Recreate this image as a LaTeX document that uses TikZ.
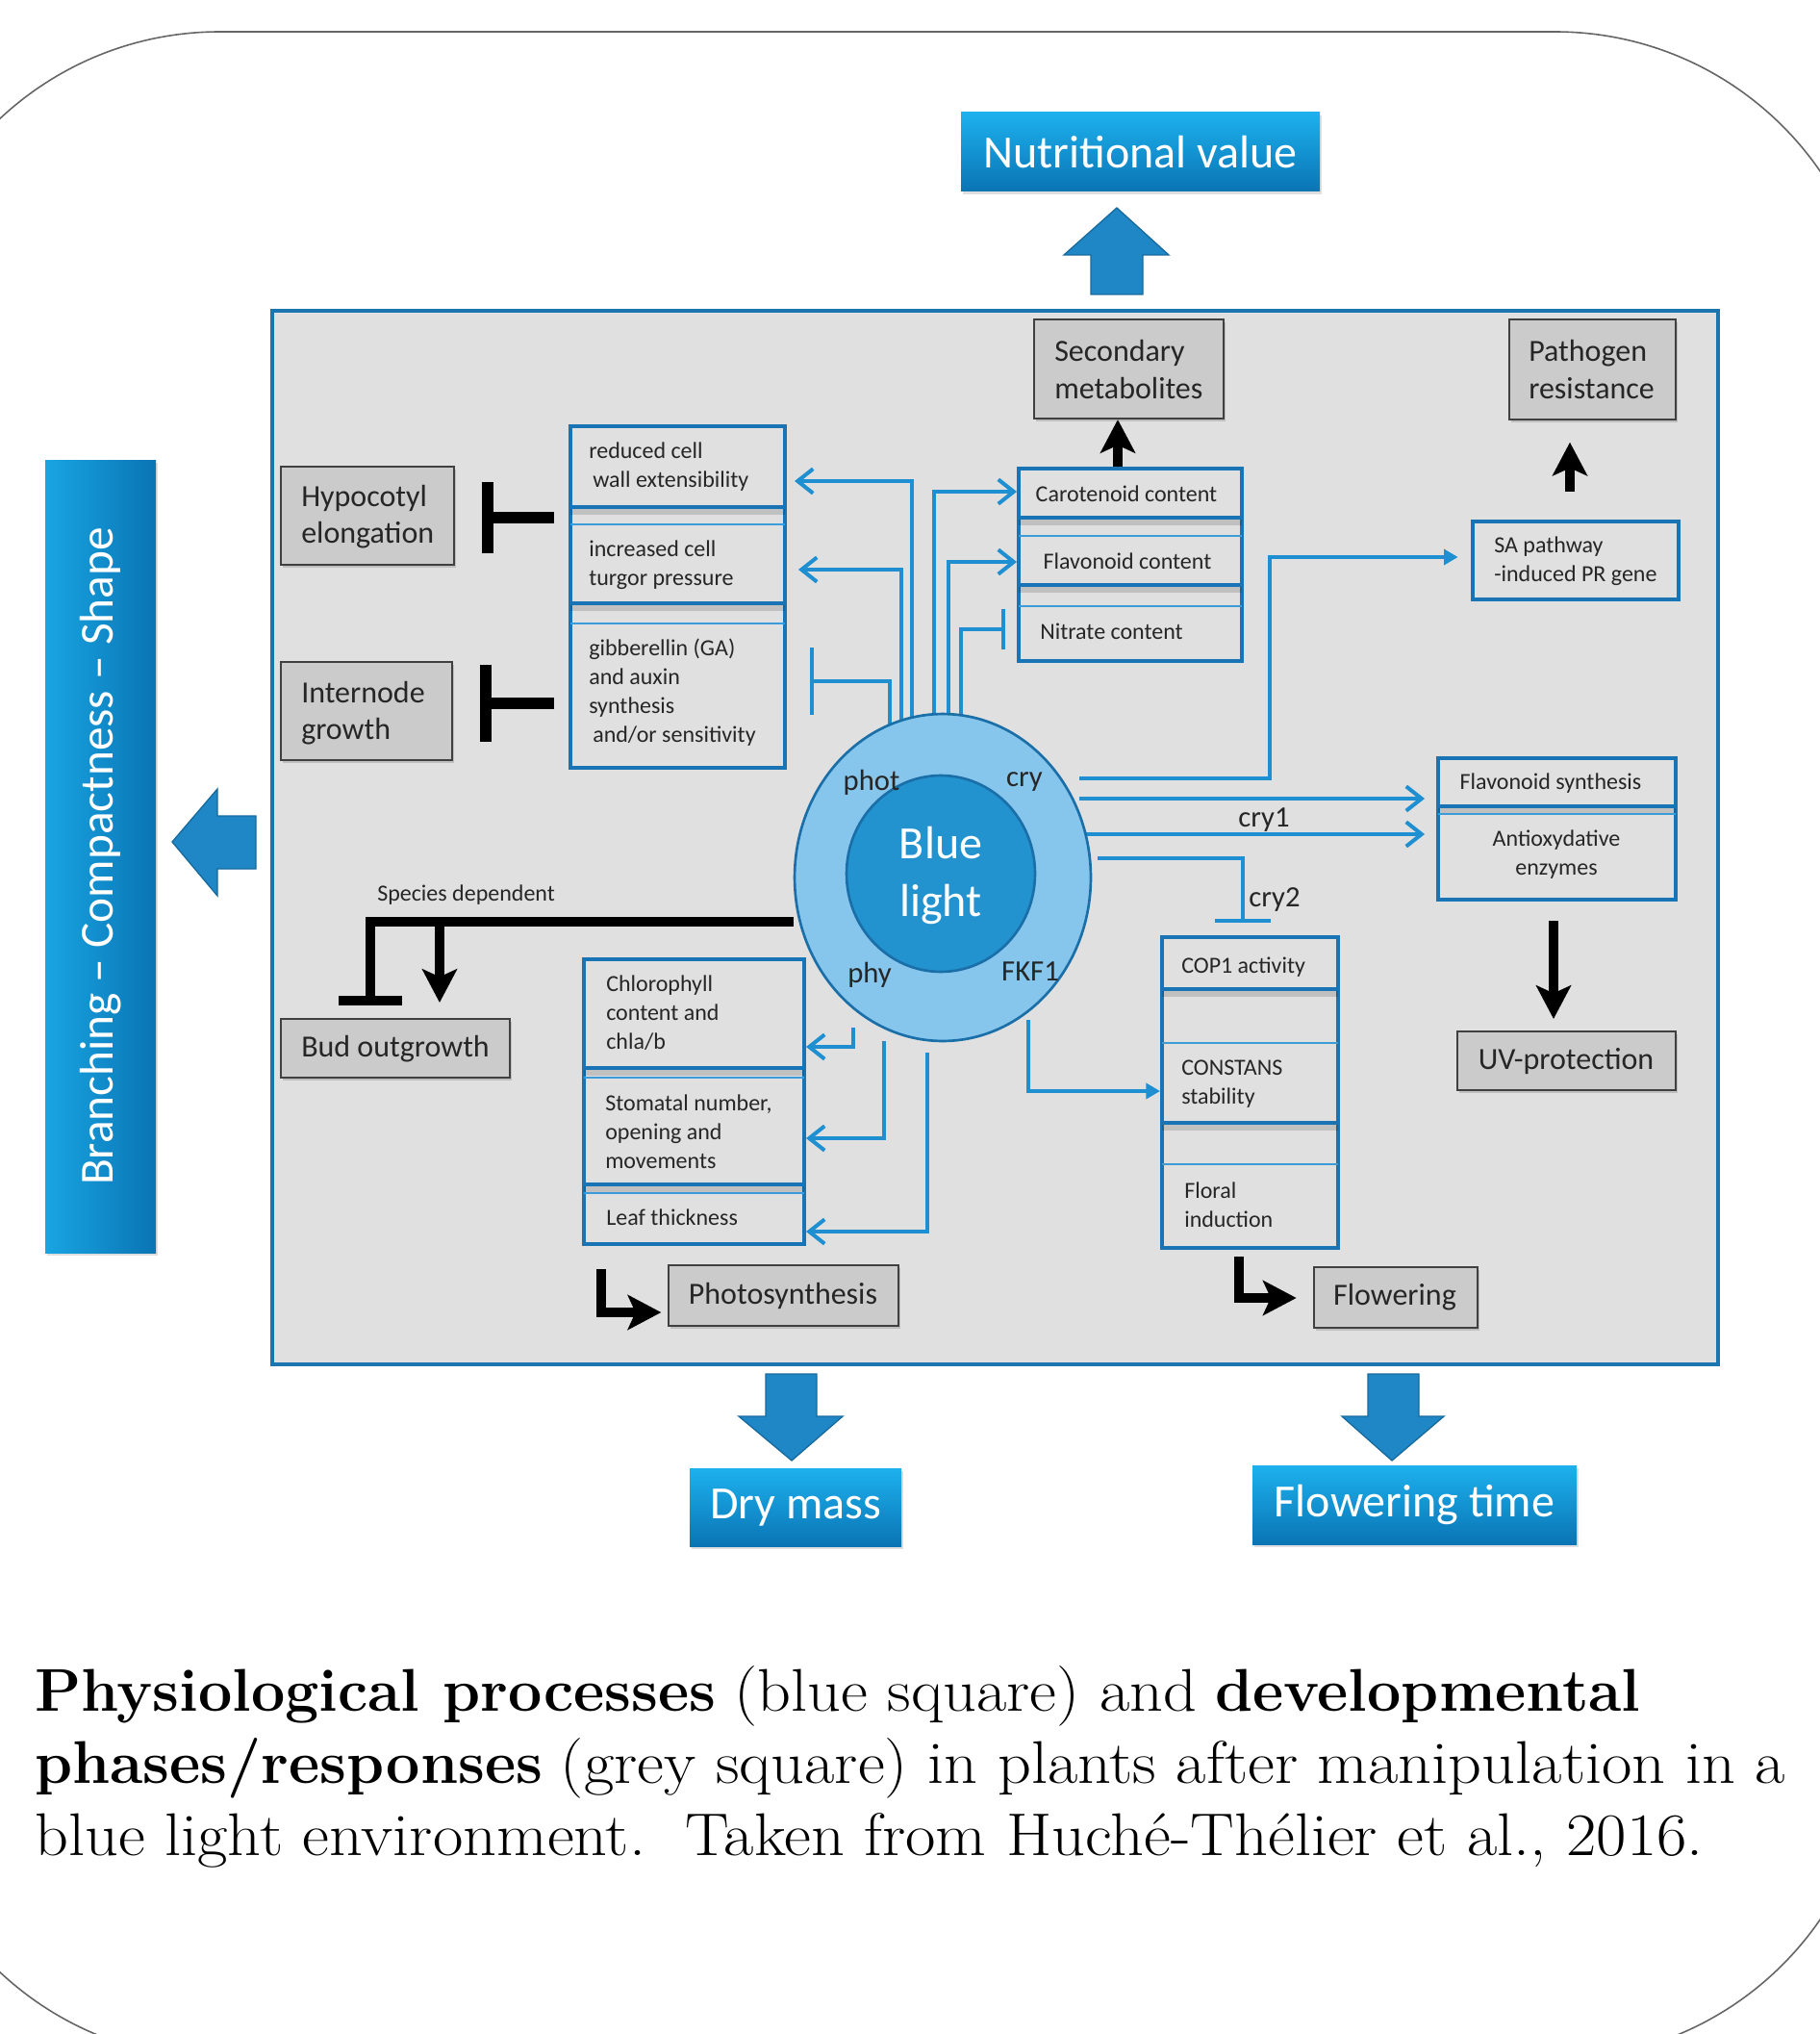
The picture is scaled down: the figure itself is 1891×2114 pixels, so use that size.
\documentclass[tikz,border=0pt]{standalone}
\usepackage{fontspec}
\usepackage{graphicx}
\newfontfamily\carl{Carlito}
\usetikzlibrary{arrows.meta,shadows,fit,shapes.geometric}
\definecolor{lb}{HTML}{1E8FD0}
\definecolor{bb}{HTML}{1874B4}
\definecolor{thinb}{HTML}{3C9CD8}
\definecolor{pb}{HTML}{1B75AE}
\definecolor{pfill}{HTML}{E0E0E0}
\definecolor{bgray}{HTML}{CBCBCB}
\definecolor{ring}{HTML}{86C5EC}
\definecolor{rb}{HTML}{1A6FA8}
\definecolor{innerc}{HTML}{2393CF}
\definecolor{ab}{HTML}{1F87C5}
\definecolor{abd}{HTML}{176A9E}
\definecolor{bigtop}{HTML}{1DB1EE}
\definecolor{bigbot}{HTML}{0A74B4}
\definecolor{txt}{HTML}{262626}
\pgfdeclarelayer{back}
\pgfdeclarelayer{conn}
\pgfsetlayers{back,conn,main}
\newcommand\sepline[4]{%
  \fill[black, opacity=.14] (#1,#3) rectangle (#2,#3+8);
  \draw[bb, line width=3pt] (#1,#3) -- (#2,#3);
  \draw[thinb, line width=1.3pt] (#1,#4) -- (#2,#4);}
\newcommand\rg[1]{\scalebox{1.09}[1]{#1}}
\begin{document}
\begin{tikzpicture}[x=0.7502pt,y=-0.7502pt,
  bline/.style={draw=lb, line width=3pt},
  barr/.style={bline, -{Straight Barb[length=12pt,width=19pt]}},
  btri/.style={bline, -{Triangle[length=11pt,width=12pt]}},
  bbar/.style={bline, -{Bar[width=#1]}}, bbar/.default=32pt,
  kline/.style={draw=black, line width=7.5pt},
  karr/.style={kline, -{Stealth[length=26pt,width=27pt,inset=6pt]}},
  kbar/.style={kline, -{Bar[width=#1]}},
  gbox/.style={draw=black!75, line width=1.5pt, fill=bgray, inner sep=0,
    drop shadow={shadow xshift=1.5pt,shadow yshift=-2.5pt,opacity=.35}},
  bbox/.style={draw=bb, line width=3pt, fill=pfill, inner sep=0},
  big/.style={inner sep=0, top color=bigtop, bottom color=bigbot, draw=none,
    drop shadow={shadow xshift=1.5pt,shadow yshift=-2.5pt,opacity=.25}},
  bigtext/.style={inner sep=0, text=white, font=\carl\fontsize{36}{40}\selectfont},
  st/.style={font=\carl\fontsize{18}{22.5}\selectfont, text=txt, inner sep=0, align=left},
  gt/.style={font=\carl\fontsize{24}{29}\selectfont, text=txt, inner sep=0, align=left},
  lab/.style={font=\carl\fontsize{23}{27}\selectfont, text=txt, inner sep=0},
  captext/.style={font=\fontsize{47}{57}\selectfont, inner sep=0, anchor=base west},
  blockarrow/.style={fill=ab, draw=abd, line width=1pt}
]
\useasboundingbox (0,0) rectangle (1891,2114);

\begin{pgfonlayer}{back}
\draw[black!60, line width=1.2pt, rounded corners=251pt] (-106,33) rectangle (1951,2140);
\node[draw=pb, line width=3pt, fill=pfill, inner sep=0, fit={(283,323) (1786,1418)}] (panel) {};
\end{pgfonlayer}

% big blue result boxes
\node[big, fit={(999,117) (1372,199)}] (nut) {};
\node[bigtext] at (nut.center) {Nutritional value};
\node[big, fit={(717,1526) (937,1607)}] (dry) {};
\node[bigtext] at (dry.center) {Dry mass};
\node[big, fit={(1302,1523) (1639,1605)}] (ft) {};
\node[bigtext] at (ft.center) {Flowering time};
\node[inner sep=0, left color=bigtop!80!bigbot, right color=bigbot, draw=none,
  drop shadow={shadow xshift=1.5pt,shadow yshift=-2.5pt,opacity=.25},
  fit={(47,478) (162,1302)}] (br) {};
\node[rotate=90, text=white, font=\carl\fontsize{37}{40}\selectfont] (brt) at (br.center) {Branching – Compactness – Shape};

% block arrows
\filldraw[blockarrow] (1134,306) -- (1134,265) -- (1106,265) -- (1161,216) -- (1215,265) -- (1188,265) -- (1188,306) -- cycle;
\filldraw[blockarrow] (266,848) -- (226,848) -- (226,820) -- (179,875) -- (226,931) -- (226,903) -- (266,903) -- cycle;
\filldraw[blockarrow] (796,1428) -- (849,1428) -- (849,1472) -- (876,1472) -- (823,1518) -- (768,1472) -- (796,1472) -- cycle;
\filldraw[blockarrow] (1422,1428) -- (1475,1428) -- (1475,1472) -- (1501,1472) -- (1447,1518) -- (1395,1472) -- (1422,1472) -- cycle;

% grey boxes
\node[gbox, fit={(292,485) (472,587)}] (hyp) {};
\node[gt, anchor=west] at (313,537) {Hypocotyl\\elongation};
\node[gbox, fit={(292,688) (470,790)}] (int) {};
\node[gt, anchor=west] at (313,741) {Internode\\growth};
\node[gbox, fit={(1075,332) (1272,435)}] (sec) {};
\node[gt, anchor=west] at (1096,384) {Secondary\\metabolites};
\node[gbox, fit={(1569,332) (1742,436)}] (pat) {};
\node[gt, anchor=west] at (1589,384) {Pathogen\\resistance};
\node[gbox, fit={(292,1059) (530,1120)}] (bud) {};
\node[gt, anchor=west] at (313,1090) {Bud outgrowth};
\node[gbox, fit={(1515,1072) (1742,1133)}] (uv) {};
\node[gt] at (1628,1103) {UV-protection};
\node[gbox, fit={(695,1315) (934,1378)}] (pho) {};
\node[gt] at (814,1347) {Photosynthesis};
\node[gbox, fit={(1366,1317) (1536,1380)}] (flo) {};
\node[gt] at (1450,1348) {Flowering};

% blue process boxes
\node[bbox, fit={(593,443) (816,798)}] (lcol) {};
\sepline{593}{816}{527}{545}
\sepline{593}{816}{627}{648}
\node[st, anchor=west] at (612,485) {reduced cell\\\hspace*{3pt}wall extensibility};
\node[st, anchor=west] at (612,587) {increased cell\\turgor pressure};
\node[st, anchor=west] at (612,720) {gibberellin (GA)\\and auxin\\synthesis\\\hspace*{3pt}and/or sensitivity};

\node[bbox, fit={(1059,487) (1291,687)}] (car) {};
\sepline{1059}{1291}{538}{557}
\sepline{1059}{1291}{608}{630}
\node[st] at (1171,513) {Carotenoid content};
\node[st] at (1172,583) {Flavonoid content};
\node[st, anchor=west] at (1081,656) {Nitrate content};

\node[bbox, fit={(1531,542) (1745,623)}] (sa) {};
\node[st, anchor=west] at (1553,583) {SA pathway\\-induced PR gene};

\node[bbox, fit={(1495,788) (1742,935)}] (fs) {};
\sepline{1495}{1742}{838}{846}
\node[st] at (1612,814) {Flavonoid synthesis};
\node[st, align=center] at (1618,888) {Antioxydative\\enzymes};

\node[bbox, fit={(1208,974) (1391,1297)}] (cop) {};
\sepline{1208}{1391}{1028}{1084}
\sepline{1208}{1391}{1167}{1210}
\node[st, anchor=west] at (1228,1005) {COP1 activity};
\node[st, anchor=west] at (1228,1127) {CONSTANS\\stability};
\node[st, anchor=west] at (1231,1252) {Floral\\induction};

\node[bbox, fit={(607,997) (836,1293)}] (chl) {};
\sepline{607}{836}{1110}{1120}
\sepline{607}{836}{1231}{1240}
\node[st, anchor=west] at (630,1053) {Chlorophyll\\content and\\chla/b};
\node[st, anchor=west] at (629,1176) {Stomatal number,\\opening and\\movements};
\node[st, anchor=west] at (630,1265) {Leaf thickness};

% blue light photoreceptor rings
\node[ellipse, draw=rb, line width=2pt, fill=ring, minimum width=231pt, minimum height=255pt, inner sep=0] (bl) at (980,912) {};
\node[ellipse, draw=rb, line width=2pt, fill=innerc, minimum width=147pt, minimum height=153pt, inner sep=0] (blin) at (978,908) {};
\node[font=\carl\fontsize{36}{45}\selectfont, text=white, align=center, inner sep=0] (blt) at (978,910) {Blue\\light};
\node[lab] (lphot) at (906,813) {phot};
\node[lab] (lcry) at (1065,813) {cry};
\node[lab] (lphy) at (904,1013) {phy};
\node[lab] (lfkf) at (1071,1010) {FKF1};
\node[lab] (lcry1) at (1314,852) {cry1};
\node[lab] (lcry2) at (1325,935) {cry2};
\node[st, anchor=west] (lspec) at (392,930) {Species dependent};

\coordinate (c1) at (1122,809);
\coordinate (c2) at (1122,830);
\coordinate (c3) at (1126,867);
\coordinate (c4) at (1141,892);

\begin{pgfonlayer}{conn}
% to left column
\draw[barr, shorten >=6pt] (948,800) |- (lcol.east|-0,500);
\draw[barr, shorten >=9pt] (937,800) |- (lcol.east|-0,592);
\draw[bbar=52pt, shorten >=18pt] (925,800) |- (lcol.east|-0,708);
% to carotenoid box
\draw[barr] (971,800) |- (car.west|-0,511);
\draw[barr] (986,800) |- (car.west|-0,584);
\draw[bbar=32pt, shorten >=9pt] (999,800) |- (car.west|-0,654);
% cry
\draw[btri, shorten >=10pt] (c1) -| (1320,579) -- (sa.west|-0,579);
\draw[barr, shorten >=9pt] (c2) -- (fs.west|-c2);
\draw[barr, shorten >=9pt] (c3) -- (fs.west|-c3);
\draw[bbar=43pt, shorten >=10pt] (c4) -| (1292,0|-cop.north);
% FKF1
\draw[btri] (1069,1060) |- (cop.west|-0,1134);
% phy to chlorophyll box
\draw[barr] (887,1068) |- (chl.east|-0,1088);
\draw[barr] (919,1082) |- (chl.east|-0,1183);
\draw[barr] (964,1094) |- (chl.east|-0,1280);
% inside COP1 box
\draw[draw=lb, line width=2.5pt, -{Bar[width=28pt]}] (1286,1043) -- (1286,1072);
\draw[draw=lb, line width=2.5pt, -{Straight Barb[length=10pt,width=16pt]}] (1286,1168) -- (1286,1207);
% species dependent
\draw[kbar=49pt, shorten >=10pt] (bl.west|-0,958) -| (385,0|-bud.north);
\draw[karr, shorten >=12pt] (457,958) -- (457,0|-bud.north);
% hypocotyl / internode inhibition
\draw[kbar=56pt, line width=9pt, shorten <=11pt, shorten >=21pt] (lcol.west|-0,538) -- (hyp.east|-0,538);
\draw[kbar=60pt, line width=9pt, shorten <=11pt, shorten >=21pt] (lcol.west|-0,731) -- (int.east|-0,731);
% black arrows
\draw[karr] (1162,0|-car.north) -- (1162,0|-sec.south);
\draw[karr, shorten <=22pt, shorten >=17pt] (1632,0|-sa.north) -- (1632,0|-pat.south);
\draw[karr, shorten <=15pt, shorten >=9pt] (1615,0|-fs.south) -- (1615,0|-uv.north);
\draw[karr, shorten <=18pt, shorten >=5pt] (625,0|-chl.south) |- (pho.west|-0,1364);
\draw[karr, shorten <=5pt, shorten >=13pt] (1288,0|-cop.south) |- (flo.west|-0,1349);
\end{pgfonlayer}

% caption
\node[captext] (cap1) at (36,1778) {\textbf{Physiological processes} \rg{(blue square) and} \textbf{developmental}};
\node[captext] (cap2) at (36,1853) {\textbf{phases/responses} \rg{(grey square) in plants after manipulation in a}};
\node[captext] (cap3) at (36,1928) {\rg{blue light environment.\ \ Taken from Huché-Thélier et al., 2016.}};
\end{tikzpicture}
\end{document}
